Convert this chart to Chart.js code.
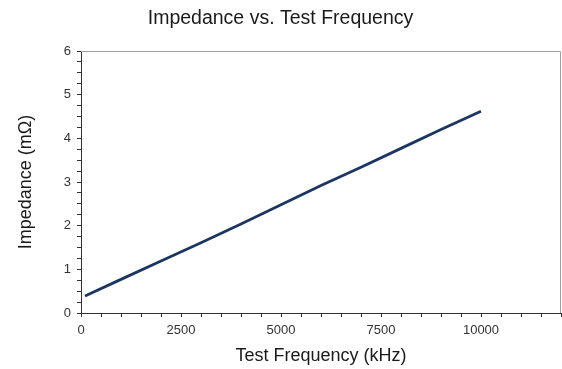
<!DOCTYPE html>
<html>
<head>
<meta charset="utf-8">
<script src="https://cdn.jsdelivr.net/npm/chart.js@4/dist/chart.umd.min.js"></script>
<style>
html,body{margin:0;padding:0;background:#fff;}
#wrap{width:562px;height:369px;position:relative;}
</style>
</head>
<body>
<div id="wrap"><canvas id="c" width="562" height="369"></canvas></div>
<script>
// Data
const frequencyKHz = [100, 1000, 2000, 3000, 4000, 5000, 6000, 7000, 8000, 9000, 10000];
const impedanceMilliOhm = [0.39, 0.77, 1.19, 1.61, 2.04, 2.48, 2.92, 3.34, 3.77, 4.20, 4.62];
const xMajorTicks = [0, 2500, 5000, 7500, 10000];
const yMajorTicks = [0, 1, 2, 3, 4, 5, 6];

const FONT = "'Liberation Sans', Arial, Helvetica, sans-serif";

const boxPlugin = {
  id: 'box',
  afterDraw(chart) {
    const a = chart.chartArea, ctx = chart.ctx;
    ctx.save();
    ctx.strokeStyle = '#a0a0a0';
    ctx.lineWidth = 1;
    ctx.beginPath();
    ctx.moveTo(a.left, a.top + 0.5);
    ctx.lineTo(a.right - 0.5, a.top + 0.5);
    ctx.lineTo(a.right - 0.5, a.bottom);
    ctx.stroke();
    ctx.restore();
  }
};

new Chart(document.getElementById('c'), {
  type: 'scatter',
  data: {
    datasets: [{
      data: frequencyKHz.map((f, i) => ({x: f, y: impedanceMilliOhm[i]})),
      showLine: true,
      borderColor: '#1d3660',
      borderWidth: 2.8,
      pointRadius: 0,
      tension: 0
    }]
  },
  options: {
    responsive: false,
    animation: false,
    devicePixelRatio: 1,
    layout: {padding: {left: 0, right: 1, top: 0, bottom: 1}},
    plugins: {
      legend: {display: false},
      tooltip: {enabled: false},
      title: {
        display: true,
        text: 'Impedance vs. Test Frequency',
        color: '#1a1a1a',
        font: {family: FONT, size: 19.5, weight: 'normal'},
        padding: {top: 7, bottom: 20.6}
      }
    },
    scales: {
      x: {
        type: 'linear',
        min: 0, max: 12000,
        border: {display: true, color: '#333', width: 1},
        grid: {drawOnChartArea: false, drawTicks: true, tickLength: 4, tickColor: '#333'},
        ticks: {
          stepSize: 500,
          autoSkip: false,
          maxRotation: 0,
          padding: 6,
          color: '#333',
          font: {family: FONT, size: 13},
          callback: v => xMajorTicks.includes(v) ? String(v) : ''
        },
        title: {
          display: true,
          text: 'Test Frequency (kHz)',
          color: '#1a1a1a',
          font: {family: FONT, size: 18},
          padding: {top: 4, bottom: 1}
        },
        afterFit: s => { s.height = 55; s.paddingRight = 0; }
      },
      y: {
        type: 'linear',
        min: 0, max: 6,
        border: {display: true, color: '#333', width: 1},
        grid: {drawOnChartArea: false, drawTicks: true, tickLength: 4, tickColor: '#333'},
        ticks: {
          stepSize: 0.25,
          autoSkip: false,
          padding: 6,
          color: '#333',
          font: {family: FONT, size: 13},
          callback: v => yMajorTicks.includes(v) ? String(v) : ''
        },
        title: {
          display: true,
          text: 'Impedance (mΩ)',
          color: '#1a1a1a',
          font: {family: FONT, size: 18},
          padding: {top: 15, bottom: 4}
        },
        afterFit: s => { s.width = 81; }
      }
    }
  },
  plugins: [boxPlugin]
});
</script>
</body>
</html>
